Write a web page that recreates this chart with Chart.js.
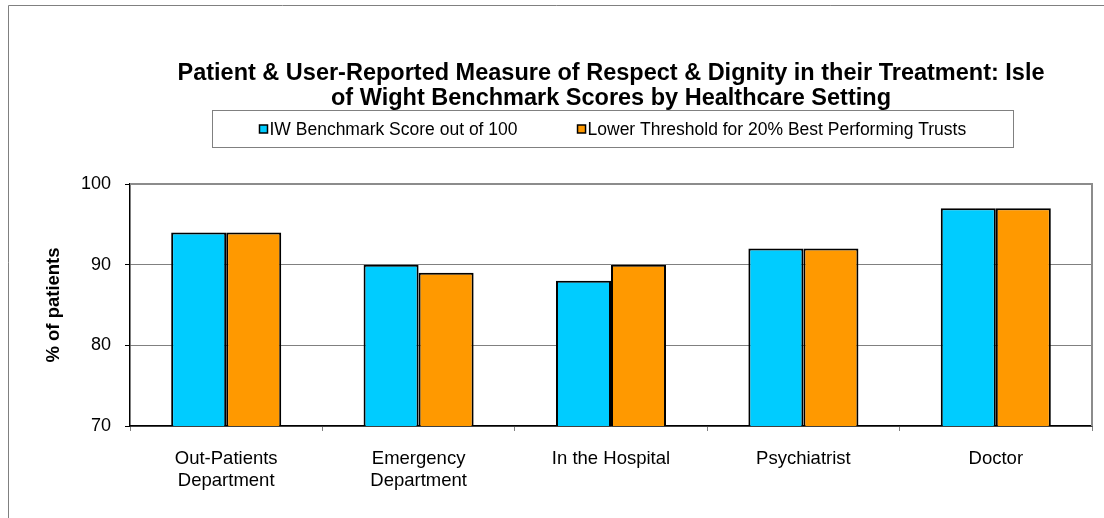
<!DOCTYPE html>
<html>
<head>
<meta charset="utf-8">
<script src="https://cdn.jsdelivr.net/npm/chart.js@4.4.1/dist/chart.umd.min.js"></script>
<style>
  html, body { margin: 0; padding: 0; background: #fff; }
  #wrap { width: 1104px; height: 518px; }
</style>
</head>
<body>
<div id="wrap"><canvas id="myBarChart"></canvas></div>
<script>
// chart data
var categories = [
    ['Out-Patients', 'Department'],
    ['Emergency', 'Department'],
    'In the Hospital',
    'Psychiatrist',
    'Doctor'
];
var iwScores = [94, 90, 88, 92, 97];
var thresholdScores = [94, 89, 90, 92, 97];
var seriesNames = ['IW Benchmark Score out of 100', 'Lower Threshold for 20% Best Performing Trusts'];
var yTicks = [70, 80, 90, 100];

var FONT = "'Liberation Sans', Arial, sans-serif";

// outer frame + plot frame (top/right in gray)
var framePlugin = {
    id: 'frames',
    beforeDraw: function(chart) {
        var c = chart.ctx;
        c.save();
        c.strokeStyle = '#808080';
        c.lineWidth = 1;
        c.beginPath();
        c.moveTo(8.5, 600);
        c.lineTo(8.5, 5.5);
        c.lineTo(1200, 5.5);
        c.stroke();
        c.restore();
    },
    beforeDatasetsDraw: function(chart) {
        var a = chart.chartArea, c = chart.ctx;
        c.save();
        c.strokeStyle = '#8c8c8c';
        c.lineWidth = 2;
        c.beginPath();
        c.moveTo(a.left, a.top);
        c.lineTo(a.right, a.top);
        c.lineTo(a.right, a.bottom);
        c.stroke();
        c.restore();
    }
};

// boxed legend like the original
var boxLegend = {
    id: 'boxLegend',
    afterDraw: function(chart) {
        var a = chart.chartArea, c = chart.ctx;
        var cx = (a.left + a.right) / 2 + 1;
        var bw = 801, bh = 37;
        var bx = Math.round(cx - bw / 2) + 0.5, by = a.top - 74 + 0.5;
        c.save();
        c.strokeStyle = '#808080';
        c.lineWidth = 1;
        c.strokeRect(bx, by, bw, bh);

        c.font = '17.5px ' + FONT;
        c.textBaseline = 'middle';
        c.fillStyle = '#000';
        var sq = 8, gap = 2, itemGap = 60;
        var widths = seriesNames.map(function(t) { return c.measureText(t).width; });
        var total = 0;
        widths.forEach(function(w, i) { total += sq + gap + w + (i ? itemGap : 0); });
        var x = Math.round(cx - total / 2) + 0.5;
        var y = by + bh / 2;
        chart.data.datasets.forEach(function(ds, i) {
            c.fillStyle = ds.backgroundColor;
            c.fillRect(x, y - sq / 2, sq, sq);
            c.strokeStyle = '#000';
            c.lineWidth = 1.5;
            c.strokeRect(x, y - sq / 2, sq, sq);
            c.fillStyle = '#000';
            c.fillText(ds.label, x + sq + gap, y + 1);
            x += sq + gap + widths[i] + itemGap;
        });
        c.restore();
    }
};

var ctx = document.getElementById('myBarChart').getContext('2d');
var myBarChart = new Chart(ctx, {
    type: 'bar',
    data: {
        labels: categories,
        datasets: [{
            label: seriesNames[0],
            data: iwScores,
            backgroundColor: '#00CCFF',
            borderColor: '#000',
            borderWidth: 2,
            borderSkipped: false
        }, {
            label: seriesNames[1],
            data: thresholdScores,
            backgroundColor: '#FF9900',
            borderColor: '#000',
            borderWidth: 2,
            borderSkipped: false
        }]
    },
    options: {
        responsive: true,
        maintainAspectRatio: false,
        animation: false,
        datasets: {
            bar: { categoryPercentage: 0.572, barPercentage: 1.0 }
        },
        layout: {
            padding: { left: 40, right: 12, top: 0, bottom: 0 }
        },
        plugins: {
            legend: { display: false },
            tooltip: { enabled: false },
            title: {
                display: true,
                fullSize: false,
                text: ['Patient & User-Reported Measure of Respect & Dignity in their Treatment: Isle',
                       'of Wight Benchmark Scores by Healthcare Setting'],
                color: '#000',
                font: { family: FONT, size: 23.5, weight: 'bold', lineHeight: '25px' },
                padding: { top: 61, bottom: 73 }
            }
        },
        scales: {
            x: {
                afterFit: function(s) { s.height = 92; },
                grid: { drawOnChartArea: false, drawTicks: true, tickLength: 5, color: '#808080', offset: true },
                border: { color: '#000', width: 1.5 },
                ticks: {
                    color: '#000',
                    padding: 17,
                    maxRotation: 0,
                    font: { family: FONT, size: 18.5, lineHeight: '22px' }
                }
            },
            y: {
                min: 70,
                max: 100,
                afterFit: function(s) { s.width = 90; },
                afterBuildTicks: function(s) { s.ticks = yTicks.map(function(v) { return { value: v }; }); },
                grid: { color: '#808080', tickColor: '#000', tickLength: 5, lineWidth: 1 },
                border: { color: '#000', width: 1.5 },
                ticks: {
                    color: '#000',
                    padding: 14,
                    font: { family: FONT, size: 18 }
                },
                title: {
                    display: true,
                    text: '% of patients',
                    color: '#000',
                    font: { family: FONT, size: 18.5, weight: 'bold' },
                    padding: { top: 3, bottom: 0 }
                }
            }
        }
    },
    plugins: [framePlugin, boxLegend]
});
</script>
</body>
</html>
